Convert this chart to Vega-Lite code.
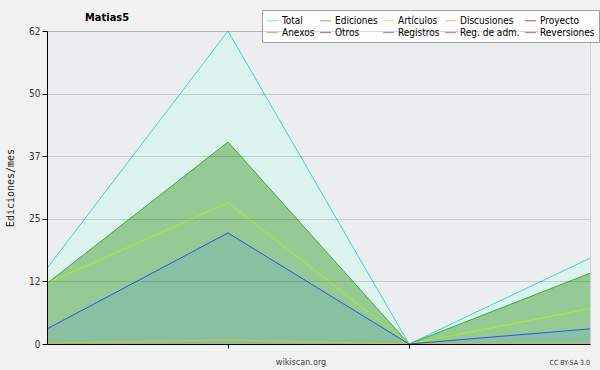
{
  "$schema": "https://vega.github.io/schema/vega-lite/v6.json",
  "width": 543,
  "height": 313,
  "autosize": {"type": "none"},
  "padding": {"left": 47, "top": 31, "right": 10, "bottom": 26},
  "background": "#f1f1f1",
  "config": {"view": {"fill": "#ecedef", "stroke": "#d0d0d0"}, "font": "DejaVu Sans Condensed"},
  "title": {"text": "Matias5", "anchor": "start", "frame": "group", "dx": 38, "dy": 33, "offset": 11, "baseline": "alphabetic", "fontSize": 11, "fontWeight": "bold", "font": "DejaVu Sans Condensed", "color": "#000"},
  "data": {"values": [
    {"mes": 0, "serie": "Total", "valor": 15},
    {"mes": 1, "serie": "Total", "valor": 62},
    {"mes": 2, "serie": "Total", "valor": 0},
    {"mes": 3, "serie": "Total", "valor": 17},
    {"mes": 0, "serie": "Ediciones", "valor": 12},
    {"mes": 1, "serie": "Ediciones", "valor": 40},
    {"mes": 2, "serie": "Ediciones", "valor": 0},
    {"mes": 3, "serie": "Ediciones", "valor": 14},
    {"mes": 0, "serie": "Artículos", "valor": 12},
    {"mes": 1, "serie": "Artículos", "valor": 28},
    {"mes": 2, "serie": "Artículos", "valor": 0},
    {"mes": 3, "serie": "Artículos", "valor": 7},
    {"mes": 0, "serie": "Discusiones", "valor": 0.2},
    {"mes": 1, "serie": "Discusiones", "valor": 0.8},
    {"mes": 2, "serie": "Discusiones", "valor": 0},
    {"mes": 3, "serie": "Discusiones", "valor": 0},
    {"mes": 0, "serie": "Registros", "valor": 3},
    {"mes": 1, "serie": "Registros", "valor": 22},
    {"mes": 2, "serie": "Registros", "valor": 0},
    {"mes": 3, "serie": "Registros", "valor": 3}
  ]},
  "layer": [
    {"transform": [{"filter": "datum.serie == 'Total'"}], "mark": {"type": "area", "color": "#dcf2ec"},
      "encoding": {
        "x": {"field": "mes", "type": "quantitative", "scale": {"domain": [0, 3], "nice": false, "zero": false},
          "axis": {"values": [1, 2], "labels": false, "tickSize": 4, "tickColor": "#000", "domainColor": "#000", "grid": false, "zindex": 1,
            "title": "wikiscan.org", "titleX": 253.5, "titleY": 20, "titleBaseline": "alphabetic", "titleFontSize": 9, "titleFontWeight": "normal", "titleColor": "#444", "titleFont": "DejaVu Sans Condensed"}},
        "y": {"field": "valor", "type": "quantitative", "scale": {"domain": [0, 62], "nice": false},
          "axis": {"values": [0, 3.1, 6.2, 9.3, 12.4, 15.5, 18.6, 21.7, 24.8, 27.9, 31, 34.1, 37.2, 40.3, 43.4, 46.5, 49.6, 52.7, 55.8, 58.9, 62],
            "labelExpr": "abs(datum.value/12.4 - round(datum.value/12.4)) < 0.001 ? format(datum.value, '.0f') : ''",
            "grid": true,
            "gridColor": {"condition": {"test": "abs(datum.value/12.4 - round(datum.value/12.4)) < 0.001", "value": "rgba(0,0,0,0.14)"}, "value": "rgba(0,0,0,0)"},
            "tickSize": {"condition": {"test": "abs(datum.value/12.4 - round(datum.value/12.4)) < 0.001", "value": 5}, "value": 3},
            "tickColor": "#000", "domainColor": "#000", "zindex": 1,
            "labelFontSize": 10, "labelColor": "#333", "labelPadding": 2, "labelFont": "DejaVu Sans Condensed",
            "title": "Ediciones/mes", "titleFont": "DejaVu Sans Mono", "titleFontSize": 10, "titleFontWeight": "normal", "titleColor": "#222",
            "titleX": -37, "titleY": 156.5, "titleAngle": -90, "titleBaseline": "middle", "titleAlign": "center"}}
      }},
    {"transform": [{"filter": "datum.serie == 'Ediciones'"}], "mark": {"type": "area", "color": "#95ca94"},
      "encoding": {"x": {"field": "mes", "type": "quantitative"}, "y": {"field": "valor", "type": "quantitative"}}},
    {"transform": [{"filter": "datum.serie == 'Registros'"}], "mark": {"type": "area", "color": "#88c0a1"},
      "encoding": {"x": {"field": "mes", "type": "quantitative"}, "y": {"field": "valor", "type": "quantitative"}}},
    {"mark": {"type": "line", "strokeWidth": 1},
      "encoding": {"x": {"field": "mes", "type": "quantitative"}, "y": {"field": "valor", "type": "quantitative"},
        "stroke": {"field": "serie", "type": "nominal",
        "scale": {"domain": ["Total", "Ediciones", "Artículos", "Discusiones", "Proyecto", "Anexos", "Otros", "Registros", "Reg. de adm.", "Reversiones"],
          "range": ["#3cd6cc", "#3aad3a", "#a8ee1e", "#e8b820", "#303030", "#ee6a2a", "#6020b0", "#2f4fef", "#b020c8", "#d81818"]},
        "legend": {"orient": "none", "legendX": 215, "legendY": -21, "direction": "horizontal", "columns": 5, "title": null,
          "symbolType": "stroke", "symbolSize": 121, "symbolStrokeWidth": 1.2, "symbolOpacity": 0.6,
          "labelFont": "DejaVu Sans Condensed", "labelFontSize": 10, "labelColor": "#000", "labelOffset": 3,
          "columnPadding": 2, "rowPadding": 0, "padding": 4, "fillColor": "#fdfdfd", "strokeColor": "#a0a0a0"}}}},
    {"data": {"values": [{"t": "CC BY-SA 3.0"}]},
      "mark": {"type": "text", "align": "right", "baseline": "alphabetic", "dy": 21, "fontSize": 7, "font": "DejaVu Sans Condensed", "color": "#333"},
      "encoding": {"x": {"datum": 3}, "y": {"datum": 0}, "text": {"field": "t", "type": "nominal"}}}
  ]
}
